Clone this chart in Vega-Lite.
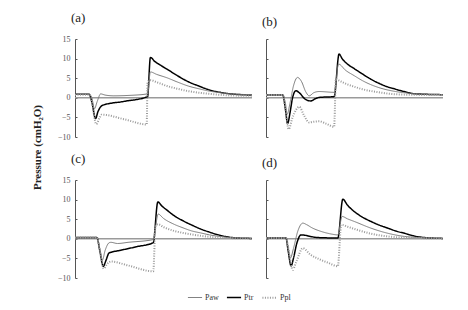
{
  "$schema": "https://vega.github.io/schema/vega-lite/v6.json",
  "padding": {"left": 31, "top": 12, "right": 20, "bottom": 5},
  "background": "white",
  "bounds": "flush",
  "columns": 2,
  "spacing": {"row": 43, "column": 14},
  "datasets": {
    "d": [
      {"p":"a","s":"Ptr","t":0,"v":0.9},{"p":"a","s":"Ptr","t":8,"v":0.9},{"p":"a","s":"Ptr","t":9.5,"v":-1},{"p":"a","s":"Ptr","t":11.6,"v":-5.3},{"p":"a","s":"Ptr","t":13,"v":-3.5},{"p":"a","s":"Ptr","t":15.6,"v":-1.9},{"p":"a","s":"Ptr","t":28,"v":-0.9},{"p":"a","s":"Ptr","t":41,"v":0.3},{"p":"a","s":"Ptr","t":42.6,"v":10.3},{"p":"a","s":"Ptr","t":45,"v":9.3},{"p":"a","s":"Ptr","t":48,"v":8.4},{"p":"a","s":"Ptr","t":52,"v":7.3},{"p":"a","s":"Ptr","t":58,"v":5.6},{"p":"a","s":"Ptr","t":64,"v":4.1},{"p":"a","s":"Ptr","t":70,"v":3},{"p":"a","s":"Ptr","t":76,"v":2},{"p":"a","s":"Ptr","t":82,"v":1.4},{"p":"a","s":"Ptr","t":88,"v":1},{"p":"a","s":"Ptr","t":94,"v":0.8},{"p":"a","s":"Ptr","t":100,"v":0.7},
      {"p":"a","s":"Paw","t":0,"v":0.9},{"p":"a","s":"Paw","t":8,"v":0.9},{"p":"a","s":"Paw","t":9.5,"v":0},{"p":"a","s":"Paw","t":11,"v":-2.8},{"p":"a","s":"Paw","t":12.5,"v":-1},{"p":"a","s":"Paw","t":14.5,"v":1},{"p":"a","s":"Paw","t":17,"v":0.7},{"p":"a","s":"Paw","t":22,"v":0.5},{"p":"a","s":"Paw","t":30,"v":0.6},{"p":"a","s":"Paw","t":41,"v":1},{"p":"a","s":"Paw","t":42.6,"v":6.6},{"p":"a","s":"Paw","t":46,"v":6},{"p":"a","s":"Paw","t":52,"v":5.1},{"p":"a","s":"Paw","t":58,"v":4},{"p":"a","s":"Paw","t":64,"v":3},{"p":"a","s":"Paw","t":70,"v":2.3},{"p":"a","s":"Paw","t":76,"v":1.7},{"p":"a","s":"Paw","t":82,"v":1.3},{"p":"a","s":"Paw","t":88,"v":1},{"p":"a","s":"Paw","t":100,"v":0.8},
      {"p":"a","s":"Ppl","t":0,"v":0.8},{"p":"a","s":"Ppl","t":8,"v":0.8},{"p":"a","s":"Ppl","t":9.5,"v":-1},{"p":"a","s":"Ppl","t":12,"v":-6.7},{"p":"a","s":"Ppl","t":14,"v":-5},{"p":"a","s":"Ppl","t":15,"v":-4.3},{"p":"a","s":"Ppl","t":28,"v":-5.5},{"p":"a","s":"Ppl","t":40.5,"v":-6.8},{"p":"a","s":"Ppl","t":41,"v":4},{"p":"a","s":"Ppl","t":42.6,"v":4.5},{"p":"a","s":"Ppl","t":46,"v":4},{"p":"a","s":"Ppl","t":52,"v":3},{"p":"a","s":"Ppl","t":58,"v":2.3},{"p":"a","s":"Ppl","t":64,"v":1.7},{"p":"a","s":"Ppl","t":70,"v":1.3},{"p":"a","s":"Ppl","t":76,"v":1},{"p":"a","s":"Ppl","t":88,"v":0.6},{"p":"a","s":"Ppl","t":100,"v":0.5},

      {"p":"b","s":"Ptr","t":0,"v":0.7},{"p":"b","s":"Ptr","t":9.5,"v":0.7},{"p":"b","s":"Ptr","t":11,"v":-3},{"p":"b","s":"Ptr","t":12.2,"v":-6.6},{"p":"b","s":"Ptr","t":13.5,"v":-4},{"p":"b","s":"Ptr","t":15,"v":0},{"p":"b","s":"Ptr","t":16.9,"v":1.8},{"p":"b","s":"Ptr","t":19,"v":1.2},{"p":"b","s":"Ptr","t":22,"v":-0.3},{"p":"b","s":"Ptr","t":25.3,"v":-0.8},{"p":"b","s":"Ptr","t":28,"v":-0.2},{"p":"b","s":"Ptr","t":30,"v":0.1},{"p":"b","s":"Ptr","t":38.5,"v":0.3},{"p":"b","s":"Ptr","t":41.3,"v":11.2},{"p":"b","s":"Ptr","t":43,"v":10},{"p":"b","s":"Ptr","t":45,"v":9},{"p":"b","s":"Ptr","t":50,"v":7.4},{"p":"b","s":"Ptr","t":54.4,"v":6.1},{"p":"b","s":"Ptr","t":59,"v":4.8},{"p":"b","s":"Ptr","t":63.8,"v":3.7},{"p":"b","s":"Ptr","t":68,"v":2.9},{"p":"b","s":"Ptr","t":73.2,"v":2.2},{"p":"b","s":"Ptr","t":78,"v":1.6},{"p":"b","s":"Ptr","t":82.6,"v":1.1},{"p":"b","s":"Ptr","t":90,"v":0.9},{"p":"b","s":"Ptr","t":100,"v":0.8},
      {"p":"b","s":"Paw","t":0,"v":0.7},{"p":"b","s":"Paw","t":9.5,"v":0.7},{"p":"b","s":"Paw","t":11,"v":-1.5},{"p":"b","s":"Paw","t":12,"v":-4.2},{"p":"b","s":"Paw","t":13.5,"v":-1.5},{"p":"b","s":"Paw","t":15.5,"v":3},{"p":"b","s":"Paw","t":17.8,"v":5.2},{"p":"b","s":"Paw","t":20,"v":4.2},{"p":"b","s":"Paw","t":22.5,"v":1.5},{"p":"b","s":"Paw","t":24.4,"v":0.5},{"p":"b","s":"Paw","t":27,"v":1.3},{"p":"b","s":"Paw","t":30,"v":1.6},{"p":"b","s":"Paw","t":38.5,"v":1.4},{"p":"b","s":"Paw","t":41,"v":8.6},{"p":"b","s":"Paw","t":45,"v":7},{"p":"b","s":"Paw","t":50,"v":5.6},{"p":"b","s":"Paw","t":54.4,"v":4.4},{"p":"b","s":"Paw","t":59,"v":3.4},{"p":"b","s":"Paw","t":63.8,"v":2.6},{"p":"b","s":"Paw","t":73.2,"v":1.6},{"p":"b","s":"Paw","t":82.6,"v":1.1},{"p":"b","s":"Paw","t":100,"v":0.8},
      {"p":"b","s":"Ppl","t":0,"v":0.7},{"p":"b","s":"Ppl","t":9.5,"v":0.7},{"p":"b","s":"Ppl","t":11,"v":-3},{"p":"b","s":"Ppl","t":12.8,"v":-8},{"p":"b","s":"Ppl","t":15,"v":-5},{"p":"b","s":"Ppl","t":18.8,"v":-2.3},{"p":"b","s":"Ppl","t":21.5,"v":-4.5},{"p":"b","s":"Ppl","t":24.4,"v":-6.3},{"p":"b","s":"Ppl","t":27,"v":-6.1},{"p":"b","s":"Ppl","t":30,"v":-6},{"p":"b","s":"Ppl","t":34,"v":-6.6},{"p":"b","s":"Ppl","t":38.5,"v":-7.4},{"p":"b","s":"Ppl","t":39.5,"v":4.8},{"p":"b","s":"Ppl","t":41.3,"v":4.4},{"p":"b","s":"Ppl","t":45,"v":3.6},{"p":"b","s":"Ppl","t":50,"v":2.8},{"p":"b","s":"Ppl","t":54.4,"v":2.2},{"p":"b","s":"Ppl","t":63.8,"v":1.4},{"p":"b","s":"Ppl","t":73.2,"v":0.9},{"p":"b","s":"Ppl","t":85,"v":0.75},{"p":"b","s":"Ppl","t":100,"v":0.7},

      {"p":"c","s":"Ptr","t":0,"v":0.3},{"p":"c","s":"Ptr","t":12.4,"v":0.3},{"p":"c","s":"Ptr","t":14,"v":-3},{"p":"c","s":"Ptr","t":16,"v":-7},{"p":"c","s":"Ptr","t":17.5,"v":-5.5},{"p":"c","s":"Ptr","t":19.3,"v":-3.6},{"p":"c","s":"Ptr","t":25,"v":-3},{"p":"c","s":"Ptr","t":35,"v":-2},{"p":"c","s":"Ptr","t":44.2,"v":-1},{"p":"c","s":"Ptr","t":46.8,"v":9.4},{"p":"c","s":"Ptr","t":49,"v":8.4},{"p":"c","s":"Ptr","t":52,"v":7.3},{"p":"c","s":"Ptr","t":56,"v":5.9},{"p":"c","s":"Ptr","t":61,"v":4.6},{"p":"c","s":"Ptr","t":66,"v":3.5},{"p":"c","s":"Ptr","t":71,"v":2.5},{"p":"c","s":"Ptr","t":76,"v":1.7},{"p":"c","s":"Ptr","t":81,"v":1},{"p":"c","s":"Ptr","t":86,"v":0.5},{"p":"c","s":"Ptr","t":92,"v":0.2},{"p":"c","s":"Ptr","t":100,"v":0.1},
      {"p":"c","s":"Paw","t":0,"v":0.3},{"p":"c","s":"Paw","t":12.4,"v":0.3},{"p":"c","s":"Paw","t":14,"v":-2.5},{"p":"c","s":"Paw","t":15.5,"v":-5.4},{"p":"c","s":"Paw","t":17,"v":-3},{"p":"c","s":"Paw","t":19.3,"v":-1},{"p":"c","s":"Paw","t":20.3,"v":-0.9},{"p":"c","s":"Paw","t":24,"v":-1.2},{"p":"c","s":"Paw","t":30,"v":-0.9},{"p":"c","s":"Paw","t":44.2,"v":-0.2},{"p":"c","s":"Paw","t":47,"v":6.3},{"p":"c","s":"Paw","t":50,"v":5.2},{"p":"c","s":"Paw","t":56,"v":3.7},{"p":"c","s":"Paw","t":61,"v":2.8},{"p":"c","s":"Paw","t":66,"v":2},{"p":"c","s":"Paw","t":71,"v":1.5},{"p":"c","s":"Paw","t":76,"v":1},{"p":"c","s":"Paw","t":86,"v":0.4},{"p":"c","s":"Paw","t":100,"v":0.1},
      {"p":"c","s":"Ppl","t":0,"v":0.3},{"p":"c","s":"Ppl","t":12.4,"v":0.3},{"p":"c","s":"Ppl","t":14,"v":-3},{"p":"c","s":"Ppl","t":16.3,"v":-7.6},{"p":"c","s":"Ppl","t":18,"v":-6.5},{"p":"c","s":"Ppl","t":20.3,"v":-5.8},{"p":"c","s":"Ppl","t":30,"v":-6.8},{"p":"c","s":"Ppl","t":44.2,"v":-8.3},{"p":"c","s":"Ppl","t":45.5,"v":3.3},{"p":"c","s":"Ppl","t":47,"v":3.7},{"p":"c","s":"Ppl","t":50,"v":3},{"p":"c","s":"Ppl","t":56,"v":2},{"p":"c","s":"Ppl","t":61,"v":1.5},{"p":"c","s":"Ppl","t":66,"v":1.1},{"p":"c","s":"Ppl","t":76,"v":0.5},{"p":"c","s":"Ppl","t":86,"v":0.2},{"p":"c","s":"Ppl","t":100,"v":0.1},

      {"p":"d","s":"Ptr","t":0,"v":0.2},{"p":"d","s":"Ptr","t":11.3,"v":0.2},{"p":"d","s":"Ptr","t":12.5,"v":-3},{"p":"d","s":"Ptr","t":14.2,"v":-6.9},{"p":"d","s":"Ptr","t":15.5,"v":-5},{"p":"d","s":"Ptr","t":17.5,"v":-1},{"p":"d","s":"Ptr","t":19.8,"v":1},{"p":"d","s":"Ptr","t":22,"v":0.9},{"p":"d","s":"Ptr","t":25,"v":0.6},{"p":"d","s":"Ptr","t":30,"v":0.3},{"p":"d","s":"Ptr","t":40.6,"v":0.2},{"p":"d","s":"Ptr","t":43.4,"v":10.1},{"p":"d","s":"Ptr","t":46,"v":8.6},{"p":"d","s":"Ptr","t":50,"v":6.9},{"p":"d","s":"Ptr","t":55,"v":5.4},{"p":"d","s":"Ptr","t":59.4,"v":4.4},{"p":"d","s":"Ptr","t":64,"v":3.5},{"p":"d","s":"Ptr","t":68.9,"v":2.7},{"p":"d","s":"Ptr","t":74,"v":1.9},{"p":"d","s":"Ptr","t":78.3,"v":1.4},{"p":"d","s":"Ptr","t":83,"v":0.8},{"p":"d","s":"Ptr","t":87.7,"v":0.4},{"p":"d","s":"Ptr","t":100,"v":0.1},
      {"p":"d","s":"Paw","t":0,"v":0.2},{"p":"d","s":"Paw","t":11.3,"v":0.2},{"p":"d","s":"Paw","t":12.5,"v":-2},{"p":"d","s":"Paw","t":13.8,"v":-4.9},{"p":"d","s":"Paw","t":15.5,"v":-2.5},{"p":"d","s":"Paw","t":18,"v":2},{"p":"d","s":"Paw","t":20.8,"v":4},{"p":"d","s":"Paw","t":23,"v":3.6},{"p":"d","s":"Paw","t":26,"v":2.8},{"p":"d","s":"Paw","t":31,"v":1.9},{"p":"d","s":"Paw","t":36,"v":1.3},{"p":"d","s":"Paw","t":40.6,"v":1},{"p":"d","s":"Paw","t":43,"v":5.7},{"p":"d","s":"Paw","t":46,"v":5.1},{"p":"d","s":"Paw","t":50,"v":4.4},{"p":"d","s":"Paw","t":59.4,"v":2.7},{"p":"d","s":"Paw","t":68.9,"v":1.4},{"p":"d","s":"Paw","t":78.3,"v":0.6},{"p":"d","s":"Paw","t":88,"v":0.3},{"p":"d","s":"Paw","t":100,"v":0.1},
      {"p":"d","s":"Ppl","t":0,"v":0.2},{"p":"d","s":"Ppl","t":11.3,"v":0.2},{"p":"d","s":"Ppl","t":13,"v":-3.5},{"p":"d","s":"Ppl","t":15.1,"v":-7.9},{"p":"d","s":"Ppl","t":17,"v":-6},{"p":"d","s":"Ppl","t":20.8,"v":-2.4},{"p":"d","s":"Ppl","t":25,"v":-4},{"p":"d","s":"Ppl","t":30,"v":-5.2},{"p":"d","s":"Ppl","t":35,"v":-6.1},{"p":"d","s":"Ppl","t":40.6,"v":-7},{"p":"d","s":"Ppl","t":42.5,"v":3.6},{"p":"d","s":"Ppl","t":46,"v":3.1},{"p":"d","s":"Ppl","t":50,"v":2.5},{"p":"d","s":"Ppl","t":59.4,"v":1.3},{"p":"d","s":"Ppl","t":68.9,"v":0.6},{"p":"d","s":"Ppl","t":78.3,"v":0.3},{"p":"d","s":"Ppl","t":100,"v":0.1}
    ]
  },
  "concat": [
    {
      "width": 177, "height": 98,
      "title": "(a)",
      "layer": [
        {"data": {"values": [{}]}, "mark": {"type": "rule", "color": "#9a9a9a", "strokeWidth": 1.5},
         "encoding": {"y": {"datum": 0, "type": "quantitative", "scale": {"domain": [-10, 15]},
           "axis": {"values": [-10, -5, 0, 5, 10, 15], "labelOverlap": false, "labelBound": false, "title": "Pressure (cmH₂O)", "titleY": 108, "titleX": -38}}}},
        {"data": {"name": "d"}, "transform": [{"filter": "datum.p === 'a'"}],
         "mark": {"type": "line", "interpolate": "monotone"},
         "encoding": {
           "x": {"field": "t", "type": "quantitative", "scale": {"domain": [0, 100]}, "axis": null},
           "y": {"field": "v", "type": "quantitative", "scale": {"domain": [-10, 15]},
                 "axis": {"values": [-10, -5, 0, 5, 10, 15], "labelOverlap": false, "labelBound": false, "title": "Pressure (cmH₂O)", "titleY": 108, "titleX": -38}},
           "color": {"field": "s", "type": "nominal", "title": null, "scale": {"domain": ["Paw", "Ptr", "Ppl"], "range": ["#7a7a7a", "#000000", "#9a9a9a"]}},
           "strokeWidth": {"field": "s", "type": "nominal", "title": null, "scale": {"domain": ["Paw", "Ptr", "Ppl"], "range": [1, 2, 0.9]}},
           "strokeDash": {"field": "s", "type": "nominal", "title": null, "scale": {"domain": ["Paw", "Ptr", "Ppl"], "range": [[1, 0], [1, 0], [1, 1.5]]}}
         }}
      ]
    },
    {
      "width": 177, "height": 98,
      "title": "(b)",
      "layer": [
        {"data": {"values": [{}]}, "mark": {"type": "rule", "color": "#9a9a9a", "strokeWidth": 1.5},
         "encoding": {"y": {"datum": 0, "type": "quantitative", "scale": {"domain": [-10, 15]},
           "axis": {"values": [-10, -5, 0, 5, 10, 15], "labels": false, "title": null}}}},
        {"data": {"name": "d"}, "transform": [{"filter": "datum.p === 'b'"}],
         "mark": {"type": "line", "interpolate": "monotone"},
         "encoding": {
           "x": {"field": "t", "type": "quantitative", "scale": {"domain": [0, 100]}, "axis": null},
           "y": {"field": "v", "type": "quantitative", "scale": {"domain": [-10, 15]},
                 "axis": {"values": [-10, -5, 0, 5, 10, 15], "labels": false, "title": null}},
           "color": {"field": "s", "type": "nominal", "title": null, "scale": {"domain": ["Paw", "Ptr", "Ppl"], "range": ["#7a7a7a", "#000000", "#9a9a9a"]}},
           "strokeWidth": {"field": "s", "type": "nominal", "title": null, "scale": {"domain": ["Paw", "Ptr", "Ppl"], "range": [1, 2, 0.9]}},
           "strokeDash": {"field": "s", "type": "nominal", "title": null, "scale": {"domain": ["Paw", "Ptr", "Ppl"], "range": [[1, 0], [1, 0], [1, 1.5]]}}
         }}
      ]
    },
    {
      "width": 177, "height": 98,
      "title": "(c)",
      "layer": [
        {"data": {"values": [{}]}, "mark": {"type": "rule", "color": "#9a9a9a", "strokeWidth": 1.5},
         "encoding": {"y": {"datum": 0, "type": "quantitative", "scale": {"domain": [-10, 15]},
           "axis": {"values": [-10, -5, 0, 5, 10, 15], "labelOverlap": false, "labelBound": false, "title": null}}}},
        {"data": {"name": "d"}, "transform": [{"filter": "datum.p === 'c'"}],
         "mark": {"type": "line", "interpolate": "monotone"},
         "encoding": {
           "x": {"field": "t", "type": "quantitative", "scale": {"domain": [0, 100]}, "axis": null},
           "y": {"field": "v", "type": "quantitative", "scale": {"domain": [-10, 15]},
                 "axis": {"values": [-10, -5, 0, 5, 10, 15], "labelOverlap": false, "labelBound": false, "title": null}},
           "color": {"field": "s", "type": "nominal", "title": null, "scale": {"domain": ["Paw", "Ptr", "Ppl"], "range": ["#7a7a7a", "#000000", "#9a9a9a"]}},
           "strokeWidth": {"field": "s", "type": "nominal", "title": null, "scale": {"domain": ["Paw", "Ptr", "Ppl"], "range": [1, 2, 0.9]}},
           "strokeDash": {"field": "s", "type": "nominal", "title": null, "scale": {"domain": ["Paw", "Ptr", "Ppl"], "range": [[1, 0], [1, 0], [1, 1.5]]}}
         }}
      ]
    },
    {
      "width": 177, "height": 98,
      "title": "(d)",
      "layer": [
        {"data": {"values": [{}]}, "mark": {"type": "rule", "color": "#9a9a9a", "strokeWidth": 1.5},
         "encoding": {"y": {"datum": 0, "type": "quantitative", "scale": {"domain": [-10, 15]},
           "axis": {"values": [-10, -5, 0, 5, 10, 15], "labels": false, "title": null}}}},
        {"data": {"name": "d"}, "transform": [{"filter": "datum.p === 'd'"}],
         "mark": {"type": "line", "interpolate": "monotone"},
         "encoding": {
           "x": {"field": "t", "type": "quantitative", "scale": {"domain": [0, 100]}, "axis": null},
           "y": {"field": "v", "type": "quantitative", "scale": {"domain": [-10, 15]},
                 "axis": {"values": [-10, -5, 0, 5, 10, 15], "labels": false, "title": null}},
           "color": {"field": "s", "type": "nominal", "title": null, "scale": {"domain": ["Paw", "Ptr", "Ppl"], "range": ["#7a7a7a", "#000000", "#9a9a9a"]}},
           "strokeWidth": {"field": "s", "type": "nominal", "title": null, "scale": {"domain": ["Paw", "Ptr", "Ppl"], "range": [1, 2, 0.9]}},
           "strokeDash": {"field": "s", "type": "nominal", "title": null, "scale": {"domain": ["Paw", "Ptr", "Ppl"], "range": [[1, 0], [1, 0], [1, 1.5]]}}
         }}
      ]
    }
  ],
  "config": {
    "view": {"stroke": null},
    "font": "Liberation Serif",
    "title": {"anchor": "start", "frame": "group", "font": "Liberation Serif", "fontSize": 13, "fontWeight": "normal", "color": "#222", "offset": 10, "dx": -4},
    "axis": {"grid": false, "domainColor": "#555", "tickColor": "#555", "tickSize": -2, "labelOverlap": false, "labelFont": "Liberation Serif", "labelFontSize": 8, "labelColor": "#555", "labelPadding": 7, "titleFont": "Liberation Serif", "titleFontSize": 11, "titleFontWeight": "bold", "titleColor": "#222", "titleBaseline": "middle"},
    "legend": {"orient": "bottom", "direction": "horizontal", "offset": 7, "layout": {"bottom": {"anchor": "middle"}}, "labelFont": "Liberation Serif", "labelFontSize": 8, "labelColor": "#333", "symbolType": "stroke", "symbolSize": 200, "labelOffset": 2, "columnPadding": 4, "symbolStrokeWidth": 1.5}
  }
}
